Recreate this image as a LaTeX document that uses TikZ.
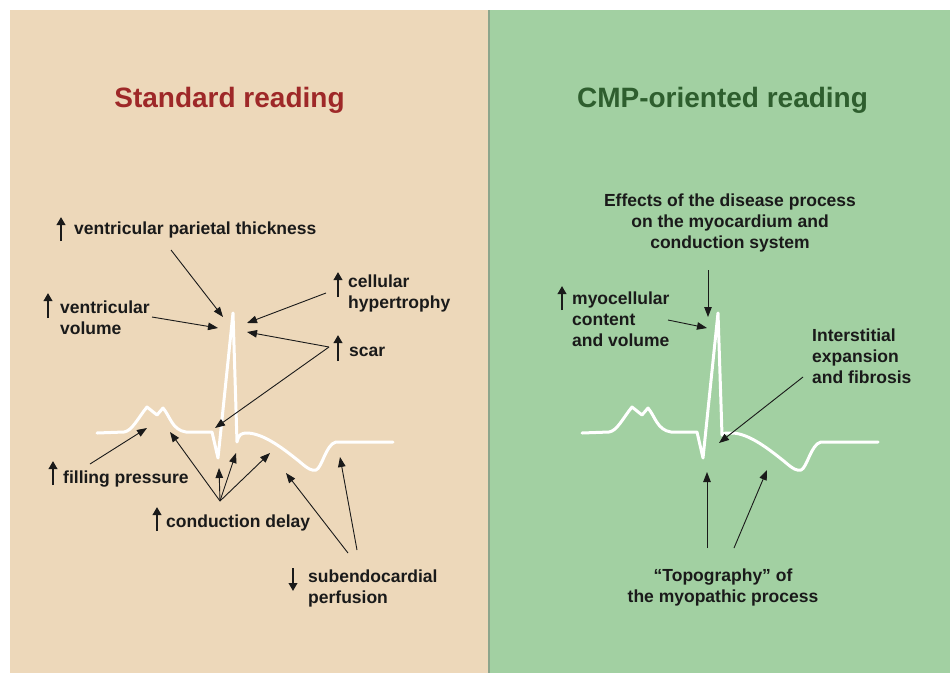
\documentclass[tikz,border=0pt]{standalone}
\usepackage{fontspec}
\setmainfont{Liberation Sans}
\usetikzlibrary{arrows.meta}
\definecolor{beige}{RGB}{237,216,186}
\definecolor{mint}{RGB}{162,208,162}
\definecolor{divider}{RGB}{140,165,140}
\definecolor{titlered}{RGB}{158,40,40}
\definecolor{titlegreen}{RGB}{46,94,46}
\definecolor{ink}{RGB}{26,26,26}
\begin{document}
\begin{tikzpicture}[x=1pt,y=-1pt,
  lab/.style={font=\fontsize{17.5}{21}\selectfont\bfseries, text=ink, inner sep=0pt, align=left, anchor=base west},
  clab/.style={lab, align=center, anchor=base},
  ttl/.style={font=\fontsize{28}{32}\selectfont\bfseries, inner sep=0pt, anchor=base},
  conn/.style={draw=ink, line width=0.9pt, -{Triangle[length=10pt,width=7.5pt]}},
  glyph/.style={draw=ink, line width=2.6pt, -{Triangle[length=8pt,width=8.5pt]}},
  ecg/.style={draw=white, line width=3pt, line join=round, line cap=round}]

\useasboundingbox (0,0) rectangle (950,673);
\fill[white] (0,0) rectangle (950,673);
\fill[beige] (10,10) rectangle (489,673);
\fill[mint] (489,10) rectangle (950,673);
\draw[divider, line width=1.2pt] (489,10) -- (489,673);

% titles
\node[ttl, text=titlered] (t1) at (229.5,107) {Standard reading};
\node[ttl, text=titlegreen] (t2) at (722.5,107) {CMP-oriented reading};

% ECG traces
\draw[ecg] (97,433) -- (124,432) .. controls (132,431) and (138,418) .. (147,407) -- (157,415) -- (163,408)
  .. controls (170,416) and (172,430) .. (186,432) -- (212,432) -- (218,458) -- (233,313) -- (237,442)
  .. controls (239,434) and (241,433) .. (248,433)
  .. controls (265,434) and (285,450) .. (300,462) .. controls (308,469) and (312,471) .. (316,470)
  .. controls (322,468) and (326,444) .. (336,442) -- (393,442);
\begin{scope}[shift={(485,0)}]
\draw[ecg] (97,433) -- (124,432) .. controls (132,431) and (138,418) .. (147,407) -- (157,415) -- (163,408)
  .. controls (170,416) and (172,430) .. (186,432) -- (212,432) -- (218,458) -- (233,313) -- (237,435)
  .. controls (238,433) and (240,433) .. (248,433)
  .. controls (265,434) and (285,450) .. (300,462) .. controls (308,469) and (312,471) .. (316,470)
  .. controls (322,468) and (326,444) .. (336,442) -- (393,442);
\end{scope}

% left labels (multi-line nodes: base = last line)
\node[lab] (l1) at (74,234.5) {ventricular parietal thickness};
\node[lab] (l2) at (60,334) {ventricular\\volume};
\node[lab] (l3) at (348,308) {cellular\\hypertrophy};
\node[lab] (l4) at (349,356) {scar};
\node[lab] (l5) at (63,483) {filling pressure};
\node[lab] (l6) at (166,527) {conduction delay};
\node[lab] (l7) at (308,603) {subendocardial\\perfusion};

% right labels
\node[clab] (r1) at (730,248) {Effects of the disease process\\on the myocardium and\\conduction system};
\node[lab] (r2) at (572,346) {myocellular\\content\\and volume};
\node[lab] (r3) at (812,383) {Interstitial\\expansion\\and fibrosis};
\node[clab] (r4) at (723,602) {“Topography” of\\the myopathic process};

% up / down glyphs
\draw[glyph] (61,241) -- (61,217);
\draw[glyph] (48,318) -- (48,293);
\draw[glyph] (338,297) -- (338,272);
\draw[glyph] (338,361) -- (338,335);
\draw[glyph] (53,485) -- (53,461);
\draw[glyph] (157,531) -- (157,507);
\draw[glyph] (293,568) -- (293,591);
\draw[glyph] (562,310) -- (562,286);

% connector coordinates
\coordinate (a1s) at (171,250); \coordinate (a1e) at (223,317);
\coordinate (a2s) at (152,317); \coordinate (a2e) at (218,328);
\coordinate (a3s) at (326,293); \coordinate (a3e) at (247,323);
\coordinate (a4s) at (329,347); \coordinate (a4e) at (247,332);
\coordinate (a5e) at (215,428);
\coordinate (a6s) at (90,464);  \coordinate (a6e) at (147,428);
\coordinate (a7s) at (220,501);
\coordinate (a7e) at (170,432); \coordinate (a8e) at (219,468);
\coordinate (a9e) at (236,453); \coordinate (a10e) at (270,453);
\coordinate (a11s) at (348,553); \coordinate (a11e) at (286,473);
\coordinate (a12s) at (357,550); \coordinate (a12e) at (340,457);

\coordinate (b1s) at (708,270); \coordinate (b1e) at (708,317);
\coordinate (b2s) at (668,320); \coordinate (b2e) at (707,328);
\coordinate (b3s) at (803,377); \coordinate (b3e) at (719,443);
\coordinate (b4s) at (707,548); \coordinate (b4e) at (707,472);
\coordinate (b5s) at (734,548); \coordinate (b5e) at (767,470);

% connectors
\draw[conn] (a1s) -- (a1e);
\draw[conn] (a2s) -- (a2e);
\draw[conn] (a3s) -- (a3e);
\draw[conn] (a4s) -- (a4e);
\draw[conn] (a4s) -- (a5e);
\draw[conn] (a6s) -- (a6e);
\draw[conn] (a7s) -- (a7e);
\draw[conn] (a7s) -- (a8e);
\draw[conn] (a7s) -- (a9e);
\draw[conn] (a7s) -- (a10e);
\draw[conn] (a11s) -- (a11e);
\draw[conn] (a12s) -- (a12e);
\draw[conn] (b1s) -- (b1e);
\draw[conn] (b2s) -- (b2e);
\draw[conn] (b3s) -- (b3e);
\draw[conn] (b4s) -- (b4e);
\draw[conn] (b5s) -- (b5e);
\end{tikzpicture}
\end{document}
